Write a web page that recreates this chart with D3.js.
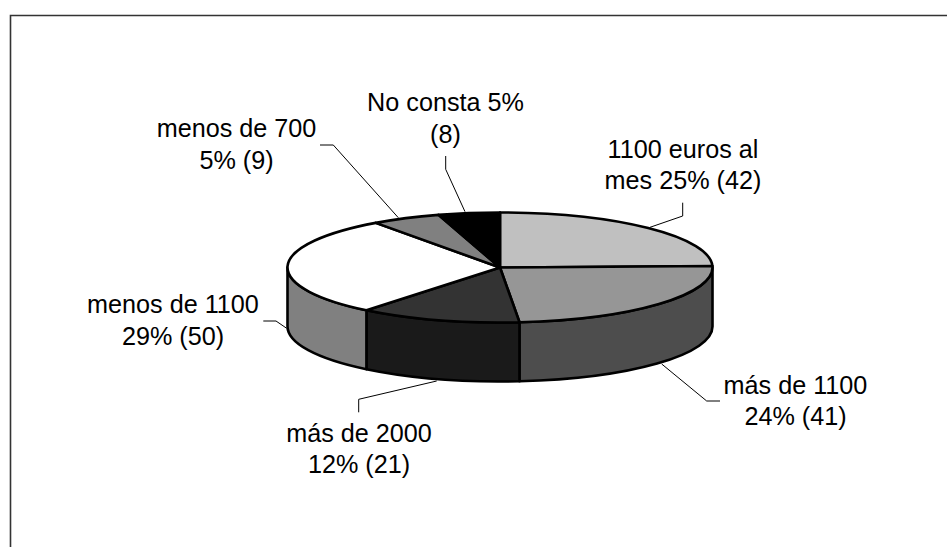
<!DOCTYPE html>
<html>
<head>
<meta charset="utf-8">
<script src="https://cdn.jsdelivr.net/npm/d3@7/dist/d3.min.js"></script>
<style>html,body{margin:0;padding:0;background:#fff}svg{display:block}</style>
</head>
<body>
<svg id="c" width="947" height="547"></svg>
<script>
const categories = ["1100 euros al mes", "más de 1100", "más de 2000", "menos de 1100", "menos de 700", "No consta"];
const counts = [42, 41, 21, 50, 9, 8];
const labelLines = [
  ["1100 euros al", "mes 25% (42)"],
  ["más de 1100", "24% (41)"],
  ["más de 2000", "12% (21)"],
  ["menos de 1100", "29% (50)"],
  ["menos de 700", "5% (9)"],
  ["No consta 5%", "(8)"]
];
const topColors = ["#c0c0c0", "#969696", "#333333", "#ffffff", "#808080", "#000000"];
const sideColors = ["#606060", "#4d4d4d", "#1a1a1a", "#808080", "#404040", "#000000"];

// Layout (not data)
const W = 947, H = 547;
const cx = 500, cy = 267.5, rx = 212.5, ry = 55, depth = 59;
const fontSize = 25.2;
const labelPos = [[683,158,189],[795.5,394,425],[359,442,473],[173,313,345],[236.5,137,169],[445.5,111,143]];
const leaders = [
  [[682.7,202.7],[682.7,216],[650,227.3]],
  [[661.7,364],[706.7,401],[720,401]],
  [[436.7,381],[358.7,399.3],[358.7,412.3]],
  [[263.3,321],[276,321],[286.7,328.3]],
  [[320,145],[333.3,145],[398.3,217.7]],
  [[445.7,156],[445.7,169.3],[465,211.7]]
];

const svg = d3.select("#c");
svg.append("rect").attr("width", W).attr("height", H).attr("fill", "#fff");

// chart frame: open on the right and at the bottom
svg.append("path")
  .attr("d", d3.line()([[10.5, H], [10.5, 15.5], [W, 15.5]]))
  .attr("fill", "none").attr("stroke", "#333").attr("stroke-width", 1.6);

const pie = d3.pie().sort(null).value(d => d);
const arcs = pie(counts);
const X = d3.scaleLinear().domain([-1, 1]).range([cx - rx, cx + rx]);
const Y = d3.scaleLinear().domain([-1, 1]).range([cy + ry, cy - ry]);
const px = a => X(Math.sin(a));
const py = a => Y(Math.cos(a));

function topPath(a0, a1) {
  const large = a1 - a0 > Math.PI ? 1 : 0;
  return `M${cx},${cy}L${px(a0)},${py(a0)}A${rx},${ry} 0 ${large} 1 ${px(a1)},${py(a1)}Z`;
}
function sidePath(a0, a1) {
  const s = Math.max(a0, Math.PI / 2), e = Math.min(a1, 3 * Math.PI / 2);
  if (e <= s) return null;
  return `M${px(s)},${py(s)}A${rx},${ry} 0 0 1 ${px(e)},${py(e)}` +
         `L${px(e)},${py(e) + depth}A${rx},${ry} 0 0 0 ${px(s)},${py(s) + depth}Z`;
}

// leader lines
svg.append("g").selectAll("path").data(leaders).join("path")
  .attr("d", d3.line())
  .attr("fill", "none").attr("stroke", "#000").attr("stroke-width", 1);

// sides
svg.append("g").selectAll("path")
  .data(arcs.filter(d => sidePath(d.startAngle, d.endAngle)))
  .join("path")
  .attr("d", d => sidePath(d.startAngle, d.endAngle))
  .attr("fill", d => sideColors[d.index])
  .attr("stroke", "#000").attr("stroke-width", 2.6).attr("stroke-linejoin", "round");

// top faces
svg.append("g").selectAll("path").data(arcs).join("path")
  .attr("d", d => topPath(d.startAngle, d.endAngle))
  .attr("fill", d => topColors[d.index])
  .attr("stroke", "#000").attr("stroke-width", 2.6).attr("stroke-linejoin", "round");

// labels
const lab = svg.append("g")
  .attr("font-family", "'Liberation Sans', Arial, sans-serif")
  .attr("font-size", fontSize).attr("fill", "#000").attr("text-anchor", "middle");
labelLines.forEach((lines, i) => {
  lines.forEach((t, j) => {
    lab.append("text").attr("x", labelPos[i][0]).attr("y", labelPos[i][j + 1]).text(t);
  });
});
</script>
</body>
</html>
